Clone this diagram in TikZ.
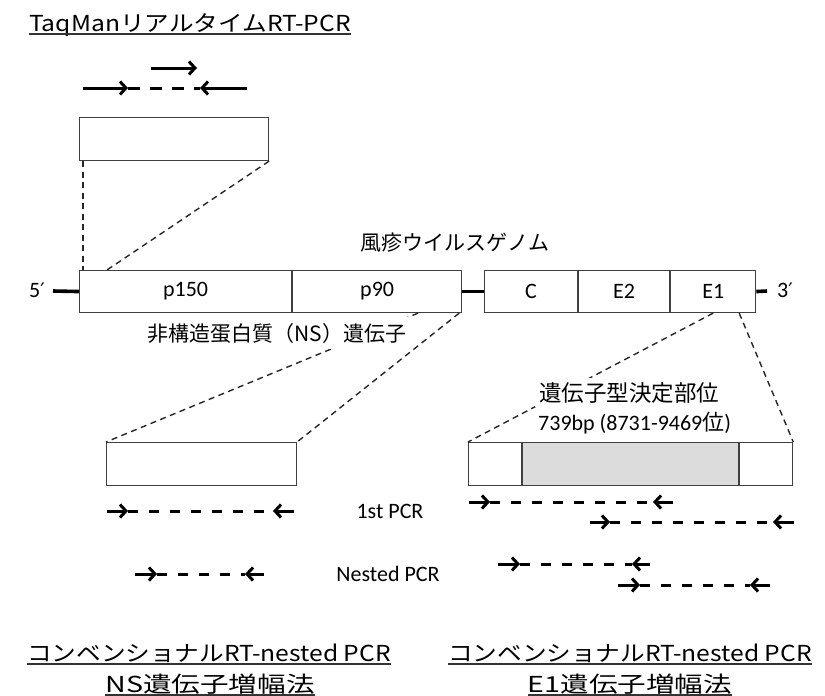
\documentclass[tikz,border=0pt]{standalone}
\usepackage{fontspec}
\setmainfont{Carlito}
\newfontfamily\cjk{Noto Sans CJK JP}
\newfontfamily\cjkw[FakeStretch=1.12]{Noto Sans CJK JP}
\newfontfamily\cjkx[FakeStretch=1.3]{Noto Sans CJK JP}
\newfontfamily\dv{DejaVu Sans}
\usetikzlibrary{arrows.meta,calc}
\definecolor{boxgray}{HTML}{DCDCDC}
\begin{document}
\begin{tikzpicture}[x=1pt,y=-1pt,
  box/.style={draw=black!75, line width=1.1pt, rectangle, inner sep=0pt, minimum height=42pt, font=\fontsize{22}{26}\selectfont},
  gline/.style={line width=3.6pt, black},
  conn/.style={line width=1.4pt, dash pattern=on 6pt off 4.5pt, black!85},
  primer/.style={line width=3pt, -{Straight Barb[length=6pt,width=13pt]}},
  amp/.style={line width=3pt, dash pattern=on 10pt off 11pt},
  ampt/.style={line width=3pt, dash pattern=on 12pt off 10pt},
  lat/.style={font=\fontsize{22}{26}\selectfont},
  jp/.style={font=\cjk\fontsize{21}{25}\selectfont},
  uttl/.style={font=\cjkw\fontsize{22}{26}\selectfont, inner sep=0pt},
  uttx/.style={font=\cjkx\fontsize{22}{26}\selectfont, inner sep=0pt},
  uline/.style={line width=1.8pt, black!80}]
\useasboundingbox (0,0) rectangle (825,696);

% title
\node[uttl, anchor=base west] (title) at (29,31) {TaqManリアルタイムRT-PCR};
\draw[uline] ($(title.base west)+(0,3)$) -- ($(title.base east)+(0,3)$);

% TaqMan primers/probe
\coordinate (pr1) at (151,68); \coordinate (pr2) at (197,68);
\coordinate (tq1) at (83,88); \coordinate (tq2) at (128,88);
\coordinate (tq3) at (200,88); \coordinate (tq4) at (247,88);
\draw[primer] (pr1) -- (pr2);
\draw[primer] (tq1) -- (tq2);
\draw[ampt] (tq2) -- (tq3);
\draw[primer] (tq4) -- (tq3);

% TaqMan box
\node[box, anchor=north west, minimum width=189pt, minimum height=43pt] (taq) at (79,117) {};

% genome
\node[box, anchor=north west, minimum width=212pt] (p150) at (79,270) {p150};
\node[box, anchor=west, minimum width=169pt] (p90) at (p150.east) {p90};
\node[box, anchor=north west, minimum width=93pt] (C) at (484,270) {C};
\node[box, anchor=west, minimum width=91pt] (E2) at (C.east) {E2};
\node[box, anchor=west, minimum width=85pt] (E1) at (E2.east) {E1};
\coordinate (g5) at (53,291);
\coordinate (g3) at (767,291);
\draw[gline] (g5) -- (p150.west);
\draw[gline] (p90.east) -- (C.west);
\draw[gline] (E1.east) -- (g3);
\node[lat] (five) at (37,290) {5{\dv\fontsize{20}{24}\selectfont ′}};
\node[lat] (three) at (785,290) {3{\dv\fontsize{20}{24}\selectfont ′}};
\node[jp] (genome) at (455,243) {風疹ウイルスゲノム};

% TaqMan connectors
\draw[conn] ($(taq.south west)+(4,0)$) -- ($(p150.north west)+(4,0)$);
\draw[conn] (taq.south east) -- ($(p150.north west)+(28,0)$);

% NS box and connectors
\node[box, anchor=north west, minimum width=190pt, minimum height=43pt] (ns) at (106,442) {};
\draw[conn] ($(p90.south west)+(126,0)$) -- (ns.north west);
\draw[conn] ($(p90.south east)+(-3,0)$) -- (ns.north east);
\node[jp, anchor=base, fill=white, inner xsep=3pt, inner ysep=6pt] (nslab) at (277,341) {非構造蛋白質（NS）遺伝子};

% E1 box and connectors
\node[box, anchor=north west, minimum width=53pt, minimum height=43pt] (e1a) at (468,442) {};
\node[box, anchor=west, fill=boxgray, minimum width=216pt, minimum height=43pt] (e1g) at (e1a.east) {};
\node[box, anchor=west, minimum width=53pt, minimum height=43pt] (e1b) at (e1g.east) {};
\draw[conn] ($(E1.south west)+(43,0)$) -- (e1a.north west);
\draw[conn] ($(E1.south west)+(69,0)$) -- (e1b.north east);
\node[anchor=base west, fill=white, inner sep=4pt, font=\cjk\fontsize{22.5}{26}\selectfont] (gt1) at (535,401) {遺伝子型決定部位};
\node[anchor=base west, fill=white, inner sep=3pt, lat] (gt2) at (535,430) {739bp (8731-9469{\cjk 位})};

% NS PCR
\coordinate (n1a) at (107,511); \coordinate (n1b) at (128,511);
\coordinate (n1c) at (273,511); \coordinate (n1d) at (294,511);
\draw[primer] (n1a) -- (n1b); \draw[amp] (n1b) -- (n1c); \draw[primer] (n1d) -- (n1c);
\coordinate (n2a) at (135,574); \coordinate (n2b) at (157,574);
\coordinate (n2c) at (245,574); \coordinate (n2d) at (264,574);
\draw[primer] (n2a) -- (n2b); \draw[amp] (n2b) -- (n2c); \draw[primer] (n2d) -- (n2c);
\node[lat] (first) at (390,511) {1st PCR};
\node[lat] (nested) at (388,574) {Nested PCR};

% E1 PCR
\coordinate (e1r1a) at (469,502); \coordinate (e1r1b) at (490,502);
\coordinate (e1r1c) at (653,502); \coordinate (e1r1d) at (673,502);
\draw[primer] (e1r1a) -- (e1r1b); \draw[amp] (e1r1b) -- (e1r1c); \draw[primer] (e1r1d) -- (e1r1c);
\coordinate (e1r2a) at (590,522); \coordinate (e1r2b) at (610,522);
\coordinate (e1r2c) at (773,522); \coordinate (e1r2d) at (794,522);
\draw[primer] (e1r2a) -- (e1r2b); \draw[amp] (e1r2b) -- (e1r2c); \draw[primer] (e1r2d) -- (e1r2c);
\coordinate (e1r3a) at (498,564); \coordinate (e1r3b) at (520,564);
\coordinate (e1r3c) at (632,564); \coordinate (e1r3d) at (650,564);
\draw[primer] (e1r3a) -- (e1r3b); \draw[amp] (e1r3b) -- (e1r3c); \draw[primer] (e1r3d) -- (e1r3c);
\coordinate (e1r4a) at (618,585); \coordinate (e1r4b) at (640,585);
\coordinate (e1r4c) at (750,585); \coordinate (e1r4d) at (770,585);
\draw[primer] (e1r4a) -- (e1r4b); \draw[amp] (e1r4b) -- (e1r4c); \draw[primer] (e1r4d) -- (e1r4c);

% bottom labels
\node[uttl, anchor=base] (bl1) at (209,661) {コンベンショナルRT-nested PCR};
\draw[uline] ($(bl1.base west)+(0,3)$) -- ($(bl1.base east)+(0,3)$);
\node[uttx, anchor=base] (bl2) at (210,692) {NS遺伝子増幅法};
\draw[uline] ($(bl2.base west)+(0,3)$) -- ($(bl2.base east)+(0,3)$);
\node[uttl, anchor=base] (br1) at (630,661) {コンベンショナルRT-nested PCR};
\draw[uline] ($(br1.base west)+(0,3)$) -- ($(br1.base east)+(0,3)$);
\node[uttx, anchor=base] (br2) at (630,692) {E1遺伝子増幅法};
\draw[uline] ($(br2.base west)+(0,3)$) -- ($(br2.base east)+(0,3)$);
\end{tikzpicture}
\end{document}
